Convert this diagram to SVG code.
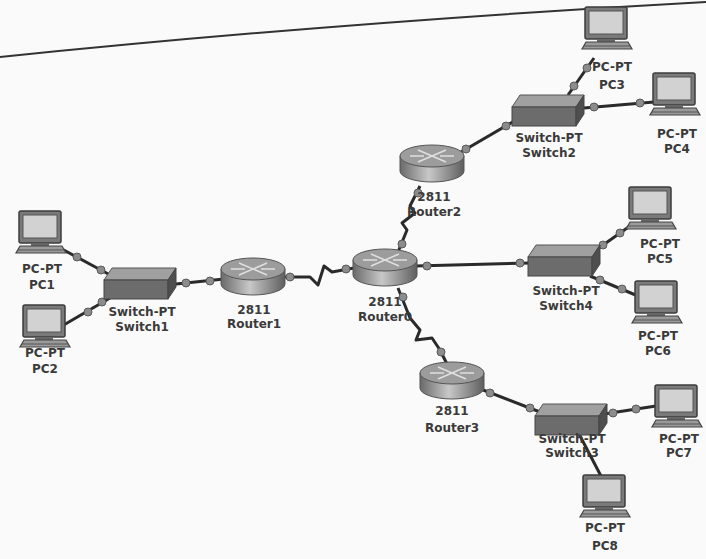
<svg xmlns="http://www.w3.org/2000/svg" width="706" height="559" viewBox="0 0 706 559">
<style>
.lbl{font-family:"DejaVu Sans","Liberation Sans",sans-serif;font-weight:bold;font-size:12px;fill:#3a3a3a;text-anchor:middle}
.link{fill:none;stroke:#2a2a2a;stroke-width:3;stroke-linejoin:round}
.dot{fill:#8c8c8c;stroke:#5a5a5a;stroke-width:1}
</style>
<defs>
<linearGradient id="rg" x1="0" y1="0" x2="1" y2="0">
<stop offset="0" stop-color="#6a6a6a"/><stop offset="0.45" stop-color="#c8c8c8"/><stop offset="1" stop-color="#5e5e5e"/>
</linearGradient>
<g id="pc">
<rect x="2" y="0" width="42" height="32" rx="2" fill="#7a7a7a" stroke="#3c3c3c" stroke-width="1.5"/>
<rect x="6" y="4" width="34" height="23" fill="#d2d2d2" stroke="#555" stroke-width="1"/>
<rect x="14" y="32" width="18" height="3" fill="#666"/>
<polygon points="3,35 45,35 49,42 -1,42" fill="#9a9a9a" stroke="#444" stroke-width="1.2"/>
<line x1="1" y1="39" x2="47" y2="39" stroke="#555" stroke-width="1"/>
</g>
<g id="sw">
<polygon points="8,0 72,0 64,12 0,12" fill="#a0a0a0" stroke="#555" stroke-width="1"/>
<rect x="0" y="12" width="64" height="19" fill="#6c6c6c" stroke="#444" stroke-width="1"/>
<polygon points="64,12 72,0 72,19 64,31" fill="#4e4e4e" stroke="#444" stroke-width="1"/>
</g>
<g id="rt">
<path d="M0,12 L0,27 A32,11 0 0 0 64,27 L64,12 Z" fill="url(#rg)" stroke="#555" stroke-width="1"/>
<ellipse cx="32" cy="12" rx="32" ry="11" fill="#9c9c9c" stroke="#555" stroke-width="1"/>
<g stroke="#e0e0e0" stroke-width="1.5" fill="none">
<line x1="18" y1="6" x2="46" y2="18"/>
<line x1="18" y1="18" x2="46" y2="6"/>
<line x1="10" y1="12" x2="24" y2="12"/>
<line x1="40" y1="12" x2="54" y2="12"/>
</g>
</g>
</defs>
<rect width="706" height="559" fill="#fafafa"/>
<path d="M0,57 Q340,22 706,2" fill="none" stroke="#333" stroke-width="2"/>

<g id="connectors">
<polyline class="link" points="60,248 112,276"/>
<polyline class="link" points="62,326 110,298"/>
<polyline class="link" points="176,284 224,279"/>
<polyline class="link" points="284,277 310,277 318,285 324,266 332,272 354,268"/>
<polyline class="link" points="398,252 407,230 402,223 415,213 410,206 420,186"/>
<polyline class="link" points="398,288 410,318 420,330 416,340 432,338 440,350 448,366"/>
<polyline class="link" points="415,266 530,263"/>
<polyline class="link" points="456,155 516,120"/>
<polyline class="link" points="568,95 594,58"/>
<polyline class="link" points="584,108 654,102"/>
<polyline class="link" points="596,250 630,226"/>
<polyline class="link" points="590,276 638,296"/>
<polyline class="link" points="478,388 540,412"/>
<polyline class="link" points="604,414 656,406"/>
<polyline class="link" points="578,432 602,478"/>
<circle class="dot" cx="77" cy="257" r="4"/><circle class="dot" cx="101" cy="270" r="4"/>
<circle class="dot" cx="88" cy="312" r="4"/><circle class="dot" cx="102" cy="302" r="4"/>
<circle class="dot" cx="186" cy="283" r="4"/><circle class="dot" cx="210" cy="281" r="4"/>
<circle class="dot" cx="290" cy="277" r="4"/><circle class="dot" cx="346" cy="269" r="4"/>
<circle class="dot" cx="402" cy="244" r="4"/><circle class="dot" cx="418" cy="193" r="4"/>
<circle class="dot" cx="403" cy="297" r="4"/><circle class="dot" cx="441" cy="352" r="4"/>
<circle class="dot" cx="427" cy="266" r="4"/><circle class="dot" cx="520" cy="263" r="4"/>
<circle class="dot" cx="466" cy="149" r="4"/><circle class="dot" cx="506" cy="126" r="4"/>
<circle class="dot" cx="574" cy="86" r="4"/><circle class="dot" cx="587" cy="68" r="4"/>
<circle class="dot" cx="594" cy="107" r="4"/><circle class="dot" cx="640" cy="103" r="4"/>
<circle class="dot" cx="603" cy="245" r="4"/><circle class="dot" cx="620" cy="233" r="4"/>
<circle class="dot" cx="600" cy="280" r="4"/><circle class="dot" cx="622" cy="289" r="4"/>
<circle class="dot" cx="490" cy="393" r="4"/><circle class="dot" cx="530" cy="408" r="4"/>
<circle class="dot" cx="613" cy="413" r="4"/><circle class="dot" cx="636" cy="409" r="4"/>
</g>

<g id="PC1"><use href="#pc" x="17" y="211"/><text class="lbl" x="42" y="273">PC-PT</text><text class="lbl" x="42" y="289">PC1</text></g>
<g id="PC2"><use href="#pc" x="21" y="305"/><text class="lbl" x="45" y="357">PC-PT</text><text class="lbl" x="45" y="373">PC2</text></g>
<g id="Switch1"><use href="#sw" x="104" y="268"/><text class="lbl" x="142" y="316">Switch-PT</text><text class="lbl" x="142" y="331">Switch1</text></g>
<g id="Router1"><use href="#rt" x="221" y="257"/><text class="lbl" x="254" y="314">2811</text><text class="lbl" x="254" y="328">Router1</text></g>
<g id="Router0"><use href="#rt" x="353" y="248"/><text class="lbl" x="385" y="306">2811</text><text class="lbl" x="385" y="321">Router0</text></g>
<g id="Router2"><use href="#rt" x="400" y="144"/><text class="lbl" x="434" y="201">2811</text><text class="lbl" x="434" y="216">Router2</text></g>
<g id="Switch2"><use href="#sw" x="512" y="95"/><text class="lbl" x="549" y="142">Switch-PT</text><text class="lbl" x="549" y="157">Switch2</text></g>
<g id="PC3"><use href="#pc" x="583" y="7"/><text class="lbl" x="612" y="71">PC-PT</text><text class="lbl" x="612" y="89">PC3</text></g>
<g id="PC4"><use href="#pc" x="651" y="73"/><text class="lbl" x="677" y="138">PC-PT</text><text class="lbl" x="677" y="153">PC4</text></g>
<g id="Switch4"><use href="#sw" x="528" y="245"/><text class="lbl" x="566" y="295">Switch-PT</text><text class="lbl" x="566" y="310">Switch4</text></g>
<g id="PC5"><use href="#pc" x="627" y="187"/><text class="lbl" x="660" y="248">PC-PT</text><text class="lbl" x="660" y="263">PC5</text></g>
<g id="PC6"><use href="#pc" x="633" y="281"/><text class="lbl" x="658" y="340">PC-PT</text><text class="lbl" x="658" y="355">PC6</text></g>
<g id="Router3"><use href="#rt" x="420" y="361"/><text class="lbl" x="452" y="415">2811</text><text class="lbl" x="452" y="432">Router3</text></g>
<g id="Switch3"><use href="#sw" x="535" y="404"/><text class="lbl" x="572" y="443">Switch-PT</text><text class="lbl" x="572" y="457">Switch3</text></g>
<g id="PC7"><use href="#pc" x="653" y="385"/><text class="lbl" x="679" y="443">PC-PT</text><text class="lbl" x="679" y="457">PC7</text></g>
<g id="PC8"><use href="#pc" x="581" y="475"/><text class="lbl" x="605" y="532">PC-PT</text><text class="lbl" x="605" y="550">PC8</text></g>
</svg>
